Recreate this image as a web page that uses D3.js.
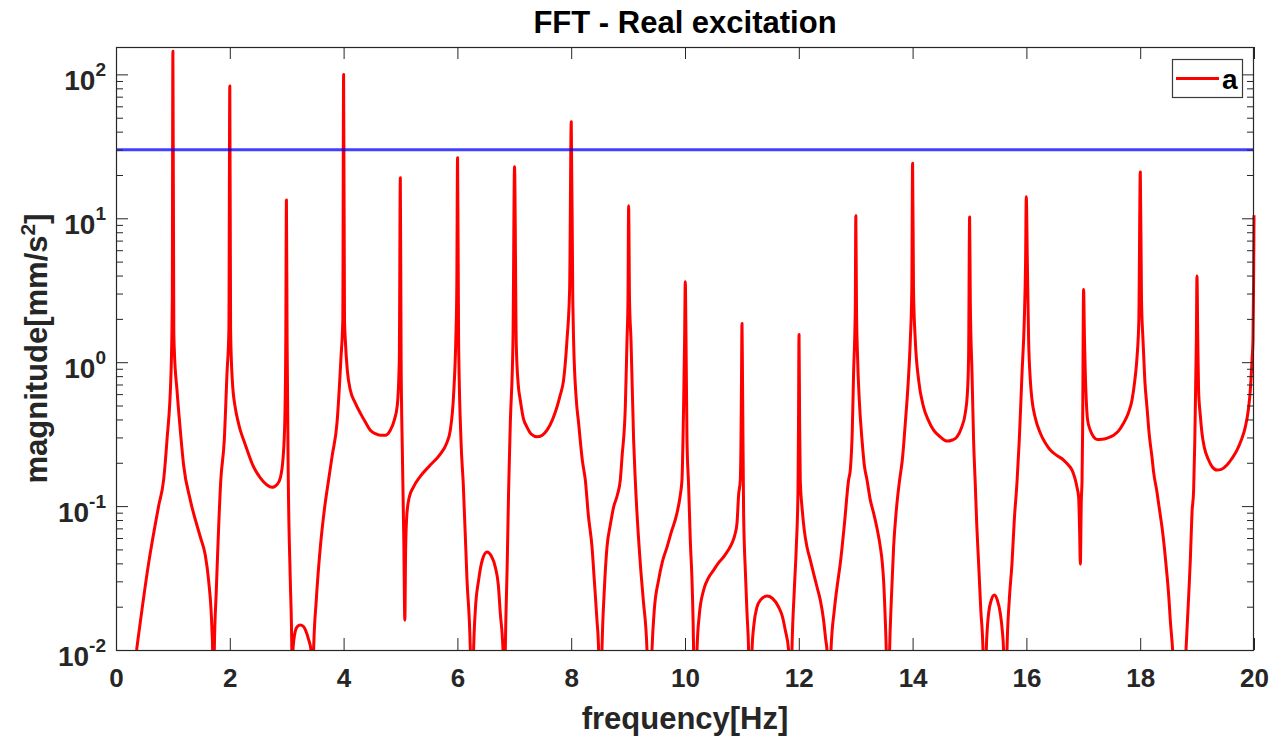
<!DOCTYPE html>
<html>
<head>
<meta charset="utf-8">
<title>FFT - Real excitation</title>
<script src="https://cdn.jsdelivr.net/npm/d3@7"></script>
<style>
  html, body { margin: 0; padding: 0; background: #ffffff; }
  svg { display: block; }
  text { font-family: "Liberation Sans", Arial, Helvetica, sans-serif; font-weight: bold; }
</style>
</head>
<body>
<svg id="chart" width="1286" height="738"></svg>
<script>
// Spectrum of the measured acceleration: frequency [Hz] and magnitude [mm/s^2].
// Values below 1e-2 mark anti-resonance notches that fall under the axis floor.
const frequency = [
  0.362, 0.573, 0.749, 0.837, 0.896, 0.967, 0.989, 1.000, 1.016, 1.025,
  1.072, 1.130, 1.188, 1.306, 1.482, 1.569, 1.627, 1.687, 1.698, 1.713,
  1.728, 1.763, 1.842, 1.903, 1.951, 1.984, 2.000, 2.014, 2.044, 2.097,
  2.140, 2.184, 2.250, 2.300, 2.418, 2.536, 2.654, 2.742, 2.835, 2.888, 2.940, 2.967,
  2.984, 2.995, 3.007, 3.028, 3.063, 3.090, 3.100, 3.111, 3.125, 3.151,
  3.186, 3.239, 3.292, 3.345, 3.388, 3.427, 3.450, 3.473, 3.520, 3.591,
  3.661, 3.736, 3.801, 3.884, 3.954, 3.986, 4.000, 4.016, 4.030, 4.065,
  4.118, 4.206, 4.294, 4.382, 4.469, 4.557, 4.645, 4.733, 4.821, 4.891, 4.944, 4.979,
  4.997, 5.011, 5.032, 5.058, 5.076, 5.090, 5.111, 5.155, 5.225, 5.348,
  5.524, 5.699, 5.805, 5.875, 5.933, 5.972, 5.989, 6.003, 6.021, 6.063,
  6.104, 6.169, 6.227, 6.256, 6.285, 6.315, 6.373, 6.438, 6.520, 6.596,
  6.666, 6.719, 6.754, 6.801, 6.821, 6.842, 6.877, 6.900, 6.930, 6.977,
  7.004, 7.035, 7.070, 7.105, 7.158, 7.223, 7.299, 7.399, 7.492, 7.575,
  7.668, 7.750, 7.808, 7.866, 7.926, 7.972, 8.001, 8.028, 8.042, 8.090,
  8.130, 8.195, 8.248, 8.301, 8.366, 8.406, 8.453, 8.482, 8.511, 8.541,
  8.582, 8.629, 8.687, 8.745, 8.810, 8.863, 8.893, 8.951, 8.981, 8.998,
  9.009, 9.025, 9.051, 9.097, 9.126, 9.214, 9.267, 9.332, 9.376, 9.420,
  9.460, 9.536, 9.601, 9.684, 9.759, 9.859, 9.917, 9.947, 9.975, 9.993,
  10.005, 10.018, 10.035, 10.063, 10.093, 10.123, 10.142, 10.151, 10.181, 10.211,
  10.251, 10.327, 10.410, 10.503, 10.585, 10.678, 10.761, 10.826, 10.875, 10.914,
  10.942, 10.972, 10.984, 10.993, 11.002, 11.011, 11.030, 11.060, 11.090, 11.118,
  11.148, 11.178, 11.210, 11.266, 11.324, 11.441, 11.534, 11.645, 11.710, 11.763,
  11.821, 11.850, 11.880, 11.921, 11.956, 11.986, 11.995, 12.004, 12.014, 12.026,
  12.061, 12.096, 12.144, 12.202, 12.254, 12.320, 12.378, 12.436, 12.474, 12.495,
  12.530, 12.566, 12.624, 12.677, 12.730, 12.800, 12.875, 12.905, 12.940, 12.963,
  12.993, 13.002, 13.014, 13.033, 13.063, 13.111, 13.151, 13.199, 13.257, 13.315,
  13.374, 13.433, 13.468, 13.490, 13.520, 13.537, 13.566, 13.596, 13.626, 13.666,
  13.714, 13.772, 13.819, 13.872, 13.925, 13.960, 13.986, 14.000, 14.016, 14.047,
  14.106, 14.193, 14.276, 14.369, 14.487, 14.604, 14.698, 14.780, 14.856, 14.926,
  14.961, 14.984, 15.002, 15.014, 15.044, 15.072, 15.102, 15.128, 15.160, 15.199,
  15.237, 15.266, 15.295, 15.336, 15.383, 15.436, 15.489, 15.541, 15.576, 15.599,
  15.629, 15.659, 15.699, 15.747, 15.787, 15.835, 15.875, 15.923, 15.963, 15.986,
  15.998, 16.016, 16.039, 16.069, 16.099, 16.157, 16.245, 16.333, 16.420, 16.526,
  16.654, 16.737, 16.802, 16.851, 16.889, 16.918, 16.935, 16.948, 16.965, 16.978,
  16.988, 17.005, 17.021, 17.035, 17.052, 17.076, 17.123, 17.181, 17.246, 17.329,
  17.422, 17.533, 17.616, 17.709, 17.792, 17.856, 17.906, 17.944, 17.976, 18.002,
  18.023, 18.049, 18.081, 18.119, 18.160, 18.207, 18.235, 18.295, 18.335, 18.383,
  18.424, 18.471, 18.503, 18.529, 18.570, 18.688, 18.805, 18.851, 18.881, 18.910, 18.939,
  18.960, 18.987, 18.998, 19.012, 19.026, 19.056, 19.086, 19.126, 19.202, 19.267,
  19.350, 19.425, 19.525, 19.618, 19.701, 19.777, 19.847, 19.900, 19.935, 19.965,
  19.982, 19.993, 20.000
];

const magnitude = [
  0.01, 0.040, 0.100, 0.152, 0.288, 0.84, 2.7, 145, 1.67, 1.21,
  0.64, 0.337, 0.193, 0.110, 0.061, 0.0457, 0.0306, 0.0137, 0.01, 0.002,
  0.01, 0.026, 0.152, 0.288, 0.84, 1.67, 83, 1.67, 0.75, 0.48,
  0.396, 0.337, 0.283, 0.248, 0.187, 0.157, 0.140, 0.135, 0.142, 0.157, 0.226, 0.396,
  1.43, 13.4, 1.43, 0.152, 0.0306, 0.01, 0.002, 0.01, 0.0117, 0.0135,
  0.01455, 0.0149, 0.0146, 0.0133, 0.0117, 0.01, 0.002, 0.01, 0.0222, 0.0519,
  0.0938, 0.152, 0.226, 0.378, 1.08, 1.96, 100, 1.96, 1.43, 0.88,
  0.64, 0.52, 0.443, 0.384, 0.337, 0.319, 0.311, 0.311, 0.337, 0.396, 0.503, 1.03,
  19.1, 1.03, 0.245, 0.058, 0.0161, 0.0494, 0.0867, 0.1156, 0.135, 0.161,
  0.193, 0.230, 0.270, 0.337, 0.592, 1.43, 3.17, 26.3, 1.43, 0.288,
  0.140, 0.0306, 0.01, 0.002, 0.01, 0.0189, 0.0306, 0.0422, 0.0479, 0.0450,
  0.0377, 0.0283, 0.0180, 0.01, 0.002, 0.01, 0.0422, 0.129, 0.378, 1.43,
  22.8, 1.31, 0.694, 0.546, 0.409, 0.354, 0.316, 0.303, 0.311, 0.337,
  0.396, 0.488, 0.592, 0.751, 1.43, 3.17, 46.8, 2.7, 1.43, 0.546,
  0.378, 0.209, 0.152, 0.0867, 0.0519, 0.0306, 0.0161, 0.01, 0.002, 0.01,
  0.0261, 0.0519, 0.0738, 0.0984, 0.119, 0.152, 0.219, 0.488, 1.43, 2.7,
  12.2, 2.7, 1.43, 0.288, 0.152, 0.0402, 0.0222, 0.01, 0.002, 0.01,
  0.0189, 0.0306, 0.0408, 0.0519, 0.0659, 0.0894, 0.119, 0.152, 0.488, 1.43,
  3.62, 1.43, 0.288, 0.140, 0.058, 0.0306, 0.0161, 0.01, 0.002, 0.01,
  0.0175, 0.0261, 0.0316, 0.0359, 0.0402, 0.0443, 0.0495, 0.0553, 0.0628, 0.0762,
  0.119, 0.152, 0.288, 0.751, 1.86, 0.751, 0.0894, 0.0359, 0.018, 0.01,
  0.002, 0.01, 0.0149, 0.0199, 0.0222, 0.0237, 0.0229, 0.0199, 0.0172, 0.0137,
  0.01, 0.002, 0.01, 0.0261, 0.0519, 0.129, 0.396, 1.56, 0.396, 0.152,
  0.0938, 0.0681, 0.0519, 0.0422, 0.0348, 0.0274, 0.0222, 0.0161, 0.0117, 0.01,
  0.002, 0.01, 0.0189, 0.0283, 0.0402, 0.0738, 0.152, 0.178, 0.337, 0.84,
  2.41, 10.4, 2.41, 1.08, 0.546, 0.288, 0.193, 0.152, 0.110, 0.0894,
  0.0703, 0.0519, 0.0402, 0.0306, 0.0161, 0.01, 0.002, 0.01, 0.0222, 0.0519,
  0.0938, 0.152, 0.209, 0.378, 0.751, 1.43, 3.17, 24.1, 3.17, 1.43,
  0.751, 0.488, 0.396, 0.337, 0.303, 0.283, 0.288, 0.303, 0.348, 0.443,
  0.592, 1.08, 10.2, 2.7, 0.84, 0.288, 0.140, 0.0738, 0.0402, 0.0189,
  0.01, 0.002, 0.01, 0.018, 0.0222, 0.0241, 0.0222, 0.018, 0.0137, 0.01,
  0.002, 0.01, 0.0222, 0.0402, 0.0798, 0.147, 0.288, 0.84, 1.96, 5.13,
  14.1, 5.13, 1.43, 0.751, 0.546, 0.409, 0.321, 0.274, 0.245, 0.226,
  0.209, 0.193, 0.178, 0.157, 0.135, 0.1156, 0.0681, 0.0395, 0.110, 0.152,
  0.337, 3.2, 1.43, 0.84, 0.546, 0.396, 0.337, 0.303, 0.290, 0.291,
  0.297, 0.311, 0.332, 0.378, 0.443, 0.546, 0.751, 1.08, 1.96, 21.0,
  2.7, 1.43, 0.751, 0.488, 0.311, 0.219, 0.173, 0.125, 0.0968, 0.0714,
  0.0519, 0.0332, 0.0233, 0.0161, 0.01, 0.0005, 0.01, 0.0233, 0.0422, 0.0894, 0.129,
  0.288, 1.43, 3.97, 1.43, 0.64, 0.429, 0.321, 0.257, 0.209, 0.187,
  0.178, 0.180, 0.193, 0.216, 0.245, 0.288, 0.354, 0.465, 0.64, 1.03,
  1.43, 3.71, 10.5
];

// Horizontal limit line
const thresholdLevel = 30;

// Axis ranges and ticks
const xDomain = [0, 20];
const yDomain = [0.01, 155];
const xTicks = [0, 2, 4, 6, 8, 10, 12, 14, 16, 18, 20];
const yTickExponents = [-2, -1, 0, 1, 2];

const seriesName = "a";
const titleText = "FFT - Real excitation";
const xLabelText = "frequency[Hz]";
const yLabelBase = "magnitude[mm/s";
const yLabelSup = "2";
const yLabelEnd = "]";

if (frequency.length !== magnitude.length) {
  console.warn("frequency/magnitude length mismatch", frequency.length, magnitude.length);
}

// ---- layout ----
const plot = { left: 116, right: 1254, top: 47, bottom: 650 };
const axisColor = "#262626";

const svg = d3.select("#chart");

const x = d3.scaleLinear().domain(xDomain).range([plot.left, plot.right]);
const y = d3.scaleLog().domain(yDomain).range([plot.bottom, plot.top]);

const majorY = yTickExponents.map(e => Math.pow(10, e));
const minorY = [];
yTickExponents.forEach(e => {
  for (let k = 2; k <= 9; k++) {
    const v = k * Math.pow(10, e);
    if (v <= yDomain[1]) minorY.push(v);
  }
});

// clip region for the data
svg.append("defs").append("clipPath").attr("id", "plotClip")
  .append("rect")
  .attr("x", plot.left - 3)
  .attr("y", plot.top)
  .attr("width", plot.right - plot.left + 6)
  .attr("height", plot.bottom - plot.top);

// white plot background
svg.append("rect")
  .attr("x", plot.left).attr("y", plot.top)
  .attr("width", plot.right - plot.left).attr("height", plot.bottom - plot.top)
  .attr("fill", "#ffffff");

// spectrum line
const points = frequency.map((f, i) => [f, magnitude[i]]);
const spectrumLine = d3.line()
  .x(d => x(d[0]))
  .y(d => y(d[1]))
  .curve(d3.curveMonotoneX);

svg.append("g").attr("clip-path", "url(#plotClip)")
  .append("path")
  .datum(points)
  .attr("d", spectrumLine)
  .attr("fill", "none")
  .attr("stroke", "#ff0000")
  .attr("stroke-width", 3)
  .attr("stroke-linejoin", "round");

// threshold line
const straightLine = d3.line().x(d => x(d[0])).y(d => y(d[1]));
svg.append("g").attr("clip-path", "url(#plotClip)")
  .append("path")
  .datum(xDomain.map(f => [f, thresholdLevel]))
  .attr("d", straightLine)
  .attr("fill", "none")
  .attr("stroke", "#0000ff")
  .attr("stroke-opacity", 0.75)
  .attr("stroke-width", 3);

// ---- axes (inward ticks on all four sides) ----
function styleAxis(g) {
  g.attr("color", axisColor);
  g.select(".domain").remove();
  g.selectAll(".tick line").attr("stroke-width", 1);
}

// bottom with labels
const xAxisBottom = svg.append("g")
  .attr("transform", `translate(0,${plot.bottom})`)
  .call(d3.axisBottom(x).tickValues(xTicks).tickSize(-12).tickSizeOuter(0).tickPadding(19)
    .tickFormat(d3.format("d")))
  .call(styleAxis);
xAxisBottom.selectAll(".tick text")
  .attr("font-size", 26)
  .attr("fill", axisColor)
  .attr("font-family", "'Liberation Sans', Arial, sans-serif")
  .attr("font-weight", "bold");

// top, ticks only
svg.append("g")
  .attr("transform", `translate(0,${plot.top})`)
  .call(d3.axisTop(x).tickValues(xTicks).tickSize(-12).tickSizeOuter(0).tickFormat(""))
  .call(styleAxis);

// left major + minor ticks
svg.append("g")
  .attr("transform", `translate(${plot.left},0)`)
  .call(d3.axisLeft(y).tickValues(majorY).tickSize(-12).tickSizeOuter(0).tickFormat(""))
  .call(styleAxis);
svg.append("g")
  .attr("transform", `translate(${plot.left},0)`)
  .call(d3.axisLeft(y).tickValues(minorY).tickSize(-7).tickSizeOuter(0).tickFormat(""))
  .call(styleAxis);

// right major + minor ticks
svg.append("g")
  .attr("transform", `translate(${plot.right},0)`)
  .call(d3.axisRight(y).tickValues(majorY).tickSize(-12).tickSizeOuter(0).tickFormat(""))
  .call(styleAxis);
svg.append("g")
  .attr("transform", `translate(${plot.right},0)`)
  .call(d3.axisRight(y).tickValues(minorY).tickSize(-7).tickSizeOuter(0).tickFormat(""))
  .call(styleAxis);

// y tick labels as powers of ten
const yLabels = svg.append("g").attr("fill", axisColor);
yTickExponents.forEach((e, i) => {
  const t = yLabels.append("text")
    .attr("x", plot.left - 10)
    .attr("y", y(majorY[i]) + 16)
    .attr("text-anchor", "end")
    .attr("font-size", 28);
  t.append("tspan").text("10");
  t.append("tspan").attr("dy", -14).attr("font-size", 19).text(String(e));
});

// axes box
svg.append("rect")
  .attr("x", plot.left + 0.5).attr("y", plot.top + 0.5)
  .attr("width", plot.right - plot.left - 1).attr("height", plot.bottom - plot.top)
  .attr("fill", "none")
  .attr("stroke", axisColor)
  .attr("stroke-width", 1.2);

// ---- legend ----
const legend = svg.append("g");
legend.append("rect")
  .attr("x", 1172.5).attr("y", 59.5)
  .attr("width", 70).attr("height", 38)
  .attr("fill", "#ffffff")
  .attr("stroke", "#3a3a3a")
  .attr("stroke-width", 1.2);
legend.append("line")
  .attr("x1", 1176).attr("x2", 1219)
  .attr("y1", 78.5).attr("y2", 78.5)
  .attr("stroke", "#ff0000").attr("stroke-width", 3);
legend.append("text")
  .attr("x", 1222).attr("y", 89)
  .attr("font-size", 28)
  .attr("fill", "#000000")
  .text(seriesName);

// ---- title and axis labels ----
const cx = (plot.left + plot.right) / 2;
svg.append("text")
  .attr("x", cx).attr("y", 33)
  .attr("text-anchor", "middle")
  .attr("font-size", 31)
  .attr("fill", "#000000")
  .text(titleText);

svg.append("text")
  .attr("x", cx).attr("y", 729)
  .attr("text-anchor", "middle")
  .attr("font-size", 31)
  .attr("fill", axisColor)
  .text(xLabelText);

const cy = (plot.top + plot.bottom) / 2;
const yl = svg.append("text")
  .attr("transform", `translate(47,${cy}) rotate(-90)`)
  .attr("text-anchor", "middle")
  .attr("font-size", 31)
  .attr("fill", axisColor);
yl.append("tspan").text(yLabelBase);
yl.append("tspan").attr("dy", -12).attr("font-size", 21).text(yLabelSup);
yl.append("tspan").attr("dy", 12).text(yLabelEnd);
</script>
</body>
</html>
